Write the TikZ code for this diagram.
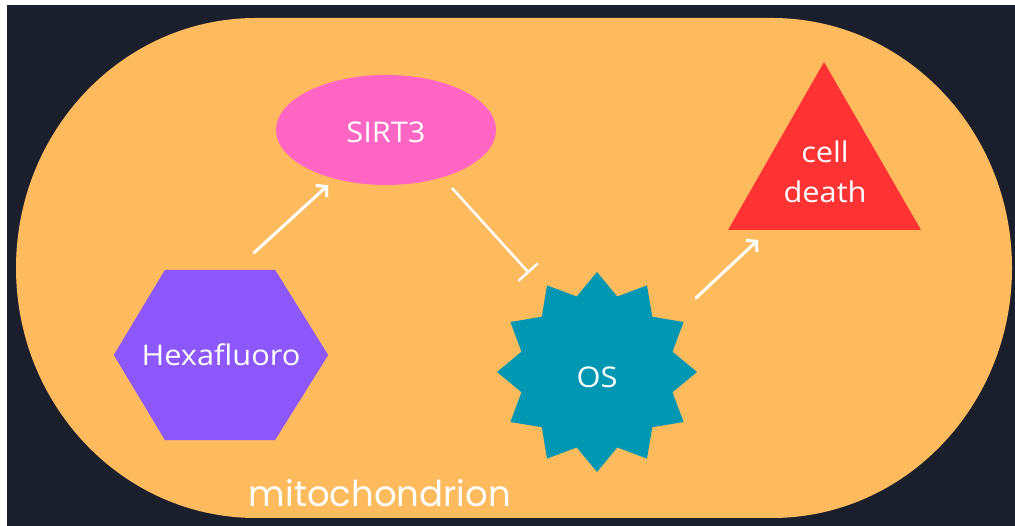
\documentclass[tikz,border=0pt]{standalone}
\usepackage{fontspec}
\setmainfont{Open Sans}[FakeStretch=1.08]
\newfontfamily\poppfont{Poppins}
\usetikzlibrary{shapes.geometric,arrows.meta,calc}
\definecolor{bgdark}{HTML}{1B1E2B}
\definecolor{mitoorange}{HTML}{FDBB5E}
\definecolor{sirtpink}{HTML}{FF66C4}
\definecolor{hexpurple}{HTML}{8C57FB}
\definecolor{osteal}{HTML}{0097B2}
\definecolor{deathred}{HTML}{FF3333}
\pgfdeclarelayer{back}
\pgfdeclarelayer{mid}
\pgfsetlayers{back,mid,main}
\begin{document}
\begin{tikzpicture}[x=1pt,y=1pt,
  lbl/.style={text=white,font=\fontsize{28.5}{40}\selectfont,inner sep=0pt,align=center},
  act/.style={draw=white,line width=3pt,line cap=round,-{Straight Barb[length=7pt,width=16pt]}},
  inh/.style={draw=white,line width=2.5pt,-{Bar[width=26pt]}}]
\useasboundingbox (0,0) rectangle (1015,526);
\begin{pgfonlayer}{back}
\fill[white] (0,0) rectangle (1015,526);
\fill[bgdark] (7,0) rectangle (1015,521);
\fill[mitoorange] (256,508) -- (772,508)
  arc[start angle=90,end angle=-90,x radius=240,y radius=250]
  -- (256,8)
  arc[start angle=270,end angle=90,x radius=240,y radius=250] -- cycle;
\end{pgfonlayer}
% nodes
\node[lbl,ellipse,fill=sirtpink,minimum width=220,minimum height=110] (sirt) at (386,396) {\raisebox{-2pt}[\height][\depth]{SIRT3}};
\node[lbl,minimum width=214,minimum height=170] (hex) at (221,171) {Hexafluoro};
\node[lbl,star,star points=12,star point ratio=1.28,minimum size=200,fill=osteal] (os) at (597,154) {\raisebox{-5pt}[\height][\depth]{OS}};
\node[lbl] (death) at (825,354) {cell\\death};
\node[text=white,font=\poppfont\fontsize{35.5}{40}\selectfont,inner sep=0pt,anchor=base] (mito) at (380,19) {mitochondrion};
\begin{pgfonlayer}{mid}
\fill[hexpurple] (hex.west) -- ($(hex.north)+(-56,0)$) -- ($(hex.north)+(54,0)$) -- (hex.east)
  -- ($(hex.south)+(54,0)$) -- ($(hex.south)+(-56,0)$) -- cycle;
\fill[deathred] ($(death.center)+(-1,110)$) -- ($(death.center)+(-97,-58)$) -- ($(death.center)+(96,-58)$) -- cycle;
\end{pgfonlayer}
% connectors
\draw[act] ($(hex.north)+(33,17)$) -- ($(sirt.south)+(-58,0)$);
\draw[inh] ($(sirt.center)+(66,-58)$) -- ($(os.center)+(-68,99)$);
\draw[act] ($(os.center)+(99,74)$) -- ($(death.center)+(-67,-68)$);
\end{tikzpicture}
\end{document}
